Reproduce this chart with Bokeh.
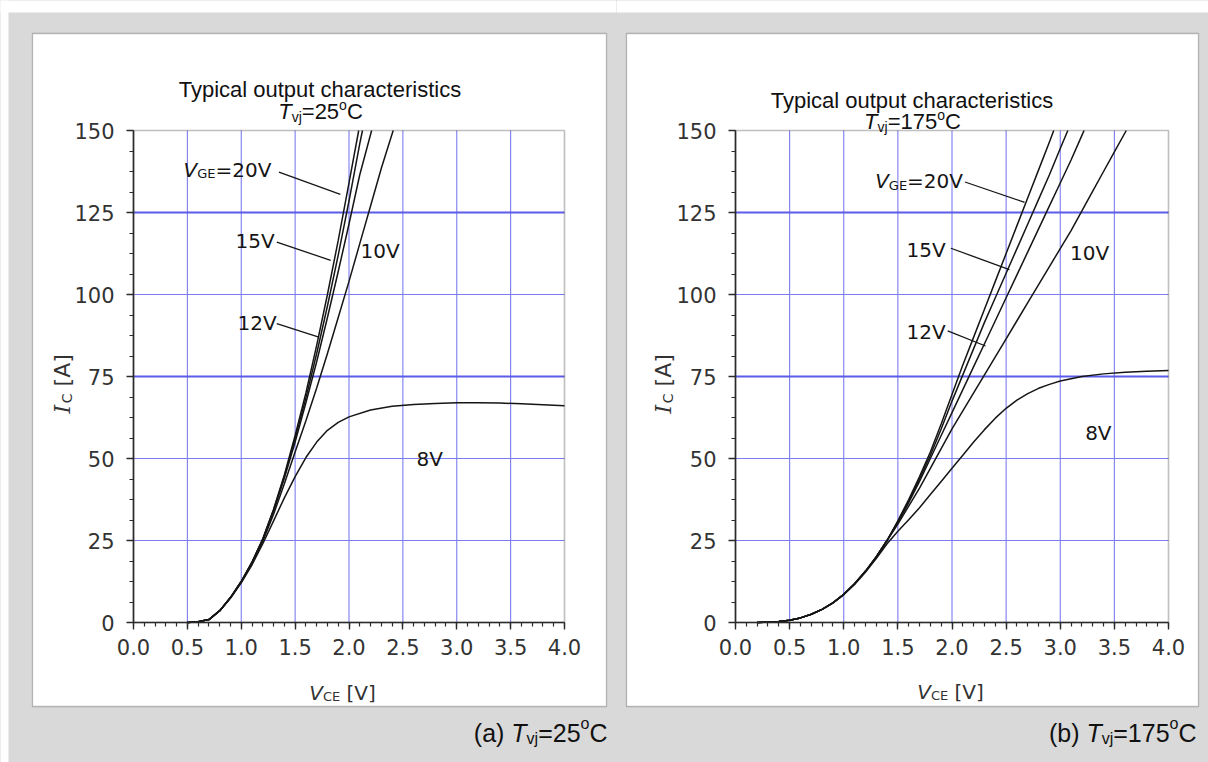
import math
from bokeh.plotting import figure
from bokeh.layouts import row
from bokeh.models import (LinearAxis, SingleIntervalTicker, NumeralTickFormatter,
                          BoxAnnotation, Label, Range1d)
from bokeh.embed import file_html
from bokeh.resources import INLINE

# ---------------- data ----------------
VCE_GRID = [0.5, 1.0, 1.5, 2.0, 2.5, 3.0, 3.5]
IC_GRID = [25, 50, 100]
IC_GRID_BOLD = [75, 125]

# Tvj = 25 C
V25_20V = [0.5, 0.6, 0.7, 0.8, 0.9, 1.0, 1.1, 1.2, 1.3, 1.4, 1.5, 1.6, 1.7, 1.8, 1.9, 2.0, 2.09]
I25_20V = [0.0, 0.2, 0.9, 3.6, 7.6, 12.5, 18.4, 25.5, 34.5, 45.0, 57.0, 70.0, 84.5, 100.0, 116.5, 134.0, 150.0]
V25_15V = [0.5, 0.6, 0.7, 0.8, 0.9, 1.0, 1.1, 1.2, 1.3, 1.4, 1.5, 1.6, 1.7, 1.8, 1.9, 2.0, 2.1, 2.125]
I25_15V = [0.0, 0.2, 0.9, 3.6, 7.6, 12.5, 18.4, 25.4, 34.3, 44.5, 56.0, 68.5, 82.0, 96.5, 112.0, 128.5, 146.0, 150.0]
V25_12V = [0.5, 0.6, 0.7, 0.8, 0.9, 1.0, 1.1, 1.2, 1.3, 1.4, 1.5, 1.6, 1.7, 1.8, 1.9, 2.0, 2.1, 2.21]
I25_12V = [0.0, 0.2, 0.9, 3.6, 7.6, 12.5, 18.3, 25.3, 34.0, 44.0, 55.0, 67.0, 79.5, 93.0, 107.0, 121.5, 136.5, 150.0]
V25_10V = [0.5, 0.6, 0.7, 0.8, 0.9, 1.0, 1.1, 1.2, 1.3, 1.4, 1.5, 1.6, 1.7, 1.8, 1.9, 2.0, 2.1, 2.2, 2.3, 2.41]
I25_10V = [0.0, 0.2, 0.9, 3.6, 7.6, 12.4, 18.1, 24.8, 33.0, 42.3, 52.0, 61.5, 71.5, 82.0, 93.0, 104.0, 115.5, 127.0, 138.5, 150.0]
V25_8V = [0.5, 0.6, 0.7, 0.8, 0.9, 1.0, 1.1, 1.2, 1.3, 1.4, 1.5, 1.6, 1.7, 1.8, 1.9, 2.0, 2.2, 2.4, 2.6, 2.8, 3.0, 3.2, 3.4, 3.6, 3.8, 4.0]
I25_8V = [0.0, 0.2, 0.9, 3.5, 7.4, 12.1, 17.6, 24.0, 31.0, 38.0, 44.5, 50.3, 55.0, 58.6, 61.0, 62.7, 64.8, 65.9, 66.5, 66.8, 67.0, 67.0, 66.9, 66.7, 66.4, 66.1]

# Tvj = 175 C
V175_20V = [0.2, 0.3, 0.4, 0.5, 0.6, 0.7, 0.8, 0.9, 1.0, 1.1, 1.2, 1.3, 1.4, 1.5, 1.6, 1.7, 1.8, 1.9, 2.0, 2.1, 2.2, 2.3, 2.4, 2.5, 2.6, 2.7, 2.8, 2.9, 2.94]
I175_20V = [0.0, 0.1, 0.3, 0.7, 1.4, 2.5, 4.0, 6.0, 8.6, 11.8, 15.6, 20.0, 25.0, 31.0, 37.5, 44.5, 52.0, 60.5, 69.5, 78.5, 87.0, 95.5, 104.0, 112.5, 121.0, 129.5, 138.0, 146.5, 150.0]
V175_15V = [0.2, 0.3, 0.4, 0.5, 0.6, 0.7, 0.8, 0.9, 1.0, 1.1, 1.2, 1.3, 1.4, 1.5, 1.6, 1.7, 1.8, 1.9, 2.0, 2.1, 2.2, 2.3, 2.4, 2.5, 2.6, 2.7, 2.8, 2.9, 3.0, 3.07]
I175_15V = [0.0, 0.1, 0.3, 0.7, 1.4, 2.5, 4.0, 6.0, 8.6, 11.8, 15.6, 20.0, 25.0, 30.8, 37.0, 43.8, 51.0, 59.0, 67.5, 75.5, 83.5, 91.5, 99.0, 106.5, 114.0, 121.5, 129.0, 136.5, 144.5, 150.0]
V175_12V = [0.2, 0.3, 0.4, 0.5, 0.6, 0.7, 0.8, 0.9, 1.0, 1.1, 1.2, 1.3, 1.4, 1.5, 1.6, 1.7, 1.8, 1.9, 2.0, 2.1, 2.2, 2.3, 2.4, 2.5, 2.6, 2.7, 2.8, 2.9, 3.0, 3.1, 3.2, 3.22]
I175_12V = [0.0, 0.1, 0.3, 0.7, 1.4, 2.5, 4.0, 6.0, 8.6, 11.8, 15.6, 20.0, 25.0, 30.5, 36.5, 43.0, 50.0, 57.0, 64.0, 71.0, 78.0, 85.0, 92.0, 99.0, 106.0, 113.0, 120.0, 127.0, 134.0, 141.0, 148.5, 150.0]
V175_10V = [0.2, 0.3, 0.4, 0.5, 0.6, 0.7, 0.8, 0.9, 1.0, 1.1, 1.2, 1.3, 1.4, 1.5, 1.6, 1.7, 1.8, 1.9, 2.0, 2.1, 2.2, 2.3, 2.4, 2.5, 2.6, 2.7, 2.8, 2.9, 3.0, 3.1, 3.2, 3.3, 3.4, 3.5, 3.61]
I175_10V = [0.0, 0.1, 0.3, 0.7, 1.4, 2.5, 4.0, 6.0, 8.6, 11.8, 15.6, 20.0, 25.0, 30.0, 35.5, 41.0, 47.0, 53.0, 59.0, 64.5, 70.0, 75.5, 81.0, 86.5, 92.0, 97.5, 103.0, 108.5, 114.0, 119.5, 125.5, 131.5, 137.5, 143.5, 150.0]
V175_8V = [0.2, 0.3, 0.4, 0.5, 0.6, 0.7, 0.8, 0.9, 1.0, 1.1, 1.2, 1.3, 1.4, 1.5, 1.6, 1.7, 1.8, 1.9, 2.0, 2.1, 2.2, 2.3, 2.4, 2.5, 2.6, 2.7, 2.8, 2.9, 3.0, 3.2, 3.4, 3.6, 3.8, 4.0]
I175_8V = [0.0, 0.1, 0.3, 0.7, 1.4, 2.5, 4.0, 6.0, 8.5, 11.6, 15.3, 19.5, 24.0, 27.8, 31.3, 35.0, 39.0, 43.0, 47.0, 51.0, 55.0, 58.8, 62.3, 65.3, 67.8, 69.8, 71.4, 72.6, 73.6, 75.0, 75.8, 76.3, 76.6, 76.8]

CURVES_25 = [(V25_20V, I25_20V), (V25_15V, I25_15V), (V25_12V, I25_12V), (V25_10V, I25_10V), (V25_8V, I25_8V)]
CURVES_175 = [(V175_20V, I175_20V), (V175_15V, I175_15V), (V175_12V, I175_12V), (V175_10V, I175_10V), (V175_8V, I175_8V)]

CURVE_LABELS = ["15V", "12V", "10V", "8V"]
# label anchors (V, I)
LBL_POS_25 = {"20V": (0.464, 138.1), "15V": (0.947, 116.4), "12V": (0.966, 91.4), "10V": (2.107, 113.4), "8V": (2.626, 50.0)}
LBL_POS_175 = {"20V": (1.29, 134.5), "15V": (1.58, 113.5), "12V": (1.58, 88.6), "10V": (3.09, 112.8), "8V": (3.23, 57.9)}
PTR_25 = [(1.35, 137.3, 1.92, 130.5), (1.33, 116.0, 1.83, 110.4), (1.33, 91.1, 1.72, 87.0)]
PTR_175 = [(2.12, 134.3, 2.67, 128.1), (1.99, 114.1, 2.53, 107.6), (1.96, 88.9, 2.31, 84.3)]

TEMPS = ["25", "175"]
PANEL_TAGS = ["(a)", "(b)"]

# ---------------- style ----------------
GRAY = "#d9d9d9"
GRID_C = "#7c7cf0"
GRID_B = "#5c5ce8"
INK = "#151515"
TXT = "#333333"

W_LIB = {' ': 0.278, '(': 0.333, ')': 0.333, 'a': 0.556, 'b': 0.556, 'c': 0.5, 'T': 0.611, 'v': 0.5,
         'j': 0.222, '=': 0.584, 'o': 0.556, 'C': 0.722, 'y': 0.5, 'p': 0.556, 'i': 0.222, 'l': 0.222,
         'u': 0.556, 't': 0.278, 'h': 0.556, 'r': 0.333, 'e': 0.556, 's': 0.5}
for _d in "0123456789":
    W_LIB[_d] = 0.556
W_DJV = {' ': 0.318, '=': 0.838, 'V': 0.684, 'G': 0.775, 'E': 0.632, 'C': 0.698, '[': 0.390,
         ']': 0.390, 'A': 0.684, '.': 0.318, 'I': 0.295}
for _d in "0123456789":
    W_DJV[_d] = 0.636
W_SER = {'I': 0.47}
FONTS = {"lib": ("Liberation Sans", W_LIB), "djv": ("DejaVu Sans", W_DJV), "ser": ("DejaVu Serif", W_SER)}


def seg_width(text, fam, size):
    tab = FONTS[fam][1]
    return sum(tab.get(c, 0.6) for c in text) * size


class Geo:
    """maps canvas pixels <-> data for a figure whose frame fills the canvas"""
    def __init__(self, W, H, x0, x1, yt, yb):
        self.W, self.H, self.x0, self.x1, self.yt, self.yb = W, H, x0, x1, yt, yb
        self.sx = (x1 - x0) / 4.0
        self.sy = (yb - yt) / 150.0

    def xr(self):
        return Range1d(-self.x0 / self.sx, (self.W - self.x0) / self.sx)

    def yr(self):
        return Range1d((self.yb - self.H) / self.sy, self.yb / self.sy)

    def dx(self, px):
        return (px - self.x0) / self.sx

    def dy(self, py):
        return (self.yb - py) / self.sy

    def px(self, v):
        return self.x0 + v * self.sx

    def py(self, i):
        return self.yb - i * self.sy


def rich(p, g, x, y, segs, align="left", vertical=False, color=TXT):
    widths = [seg_width(s[0], s[1], s[2]) for s in segs]
    total = sum(widths)
    pos = -{"left": 0.0, "center": total / 2.0, "right": total}[align]
    for (t, fam, size, ital, shift), w in zip(segs, widths):
        if t.strip():
            if vertical:
                lx, ly, ang = x + shift, y - pos, math.pi / 2
            else:
                lx, ly, ang = x + pos, y + shift, 0.0
            p.add_layout(Label(x=g.dx(lx), y=g.dy(ly), text=t, text_font=FONTS[fam][0],
                               text_font_size=f"{size}px",
                               text_font_style="italic" if ital else "normal",
                               text_color=color, text_align="left", text_baseline="alphabetic",
                               angle=ang))
        pos += w


def style_axis(ax, standoff):
    ax.axis_line_color = "#2a2a2a"
    ax.axis_line_width = 1.6
    ax.major_tick_line_color = "#2a2a2a"
    ax.major_tick_line_width = 1.4
    ax.minor_tick_line_color = "#2a2a2a"
    ax.minor_tick_line_width = 1.2
    ax.major_tick_in = 0
    ax.major_tick_out = 7
    ax.minor_tick_in = 0
    ax.minor_tick_out = 4
    ax.major_label_text_font = "DejaVu Sans"
    ax.major_label_text_font_size = "21px"
    ax.major_label_text_color = TXT
    ax.major_label_standoff = standoff
    ax.axis_label = None


def panel(W, H, g, whites, box, curves, lbl_pos, ptrs, temp, tag, title_y, caption_x, ylab, xlab):
    p = figure(width=W, height=H, x_range=g.xr(), y_range=g.yr(),
               x_axis_location=None, y_axis_location=None, title=None,
               toolbar_location=None, output_backend="svg",
               min_border_left=0, min_border_right=0, min_border_top=0, min_border_bottom=0)
    p.border_fill_color = GRAY
    p.background_fill_color = GRAY
    p.outline_line_color = None
    p.grid.visible = False

    # white page margins
    for (wl, wt, wr, wb) in whites:
        p.add_layout(BoxAnnotation(left=g.dx(wl), right=g.dx(wr), top=g.dy(wt), bottom=g.dy(wb),
                                   fill_color="white", fill_alpha=1.0, line_color=None, level="underlay"))
    # white chart box
    bl, bt, br, bb = box
    p.add_layout(BoxAnnotation(left=g.dx(bl), right=g.dx(br), top=g.dy(bt), bottom=g.dy(bb),
                               fill_color="white", fill_alpha=1.0, line_color="#303030",
                               line_width=1.3, level="underlay"))

    # grid
    p.segment(x0=VCE_GRID, y0=[0] * len(VCE_GRID), x1=VCE_GRID, y1=[150] * len(VCE_GRID),
              line_color=GRID_C, line_width=1.1)
    p.segment(x0=[0] * len(IC_GRID), y0=IC_GRID, x1=[4] * len(IC_GRID), y1=IC_GRID,
              line_color=GRID_C, line_width=1.1)
    p.segment(x0=[0] * len(IC_GRID_BOLD), y0=IC_GRID_BOLD, x1=[4] * len(IC_GRID_BOLD), y1=IC_GRID_BOLD,
              line_color=GRID_B, line_width=1.8)

    for v, i in curves:
        p.line(v, i, line_color=INK, line_width=1.5)

    p.segment(x0=[q[0] for q in ptrs], y0=[q[1] for q in ptrs], x1=[q[2] for q in ptrs],
              y1=[q[3] for q in ptrs], line_color=INK, line_width=1.3)

    # plot frame (top / right edges)
    p.add_layout(BoxAnnotation(left=0, right=4, bottom=0, top=150, fill_color=None,
                               line_color="#2a2a2a", line_width=1.6))

    xax = LinearAxis(fixed_location=0, bounds=(0, 4),
                     ticker=SingleIntervalTicker(interval=0.5, num_minor_ticks=5),
                     formatter=NumeralTickFormatter(format="0.0"))
    style_axis(xax, 9)
    p.add_layout(xax, "below")
    yax = LinearAxis(fixed_location=0, bounds=(0, 150),
                     ticker=SingleIntervalTicker(interval=25, num_minor_ticks=4))
    style_axis(yax, 12)
    p.add_layout(yax, "left")

    # curve labels
    v, i = lbl_pos["20V"]
    rich(p, g, g.px(v), g.py(i), [("V", "djv", 20, True, 0), ("GE", "djv", 13, False, 4),
                                  ("=20V", "djv", 20, False, 0)], color=INK)
    for name in CURVE_LABELS:
        v, i = lbl_pos[name]
        p.add_layout(Label(x=v, y=i, text=name, text_font="DejaVu Sans", text_font_size="20px",
                           text_color=INK, text_align="left", text_baseline="alphabetic"))

    # title
    cx, y1, y2 = title_y
    rich(p, g, cx, y1, [("Typical output characteristics", "lib", 22, False, 0)], align="center", color="#111")
    rich(p, g, cx, y2, [("T", "lib", 22, True, 0), ("vj", "lib", 14, False, 5),
                        ("=" + temp, "lib", 22, False, 0), ("o", "lib", 14, False, -7),
                        ("C", "lib", 22, False, 0)], align="center", color="#111")

    # caption
    capx, capy = caption_x
    rich(p, g, capx, capy, [(tag, "lib", 25, False, 0), (" ", "lib", 25, False, 0),
                            ("T", "lib", 25, True, 0), ("vj", "lib", 16, False, 6),
                            ("=" + temp, "lib", 25, False, 0), ("o", "lib", 16, False, -9),
                            ("C", "lib", 25, False, 0)], align="right", color="#111")

    # axis labels
    yx, yy = ylab
    rich(p, g, yx, yy, [("I", "ser", 22, True, 0), ("C", "djv", 14, False, 4),
                        (" ", "djv", 22, False, 0), ("[A]", "djv", 22, False, 0)], vertical=True)
    xx, xy = xlab
    rich(p, g, xx, xy, [("V", "djv", 20, True, 0), ("CE", "djv", 13, False, 4),
                        (" ", "djv", 20, False, 0), ("[V]", "djv", 20, False, 0)], align="center")
    return p


H = 762
WA, WB = 616, 592
gA = Geo(WA, H, 133, 564, 130, 622)
gB = Geo(WB, H, 119, 552, 130, 622)

pA = panel(WA, H, gA, [(-4, -4, WA + 4, 12), (-4, -4, 8, H + 4)], (32, 33, 606, 706),
           CURVES_25, LBL_POS_25, PTR_25, TEMPS[0], PANEL_TAGS[0],
           (320, 89, 111), (607, 732), (62, 413), (342, 692))
pB = panel(WB, H, gB, [(-4, -4, WB + 4, 12)], (10, 33, 582, 706),
           CURVES_175, LBL_POS_175, PTR_175, TEMPS[1], PANEL_TAGS[1],
           (296, 100, 121), (580, 732), (47, 413), (334, 691))

layout = row(pA, pB, spacing=0, styles={"background-color": GRAY})
open("out.html", "w").write(file_html(layout, INLINE))
